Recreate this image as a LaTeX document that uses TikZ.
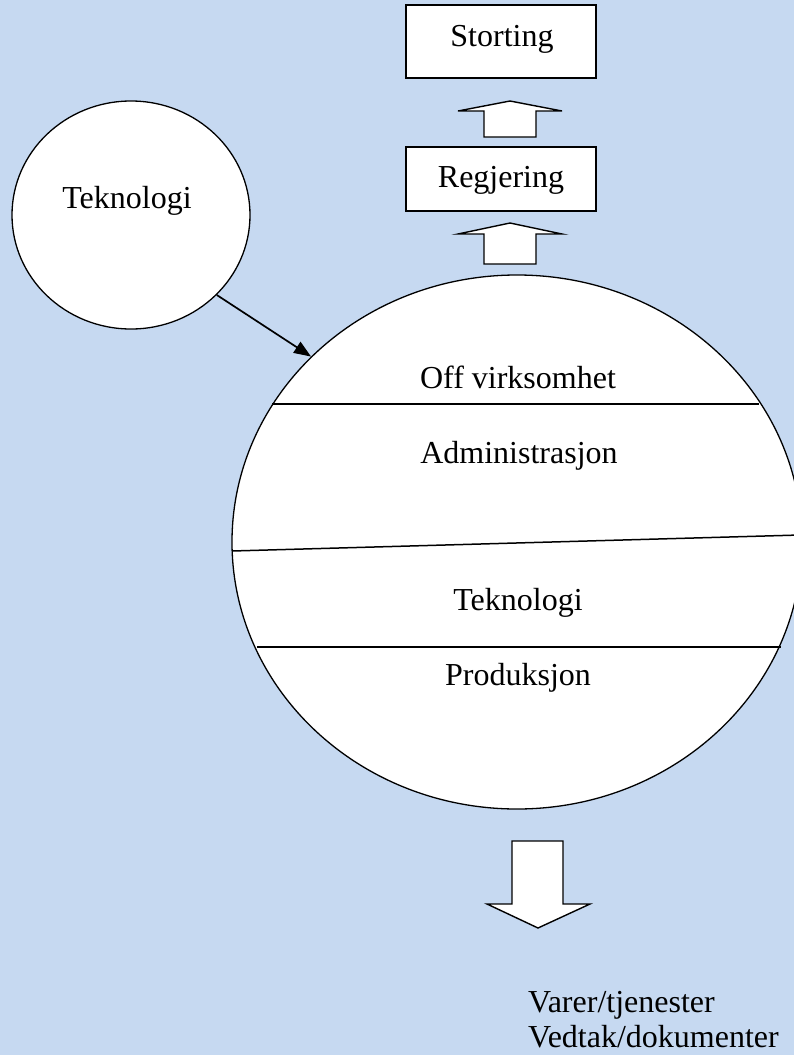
\documentclass[tikz,border=0pt]{standalone}
\usepackage{fontspec}
\setmainfont{Liberation Serif}
\usetikzlibrary{arrows.meta,shapes.geometric}
\definecolor{bgblue}{RGB}{198,217,241}
\begin{document}
\begin{tikzpicture}[x=1pt,y=-1pt, font=\fontsize{32}{35}\selectfont,
  txt/.style={inner sep=0pt, anchor=base},
  outl/.style={draw=black, line width=1.3pt, fill=white},
  boxnode/.style={draw=black, line width=1.5pt, fill=white, inner sep=0pt, minimum width=190pt},
  divider/.style={draw=black, line width=1.5pt},
  blockarrow/.style={draw=black, line width=1.4pt, fill=white, line join=miter}]
\useasboundingbox (0,0) rectangle (794,1055);
\fill[bgblue] (0,0) rectangle (794,1055);
% big organisation ellipse
\begin{scope}
\clip (0,0) rectangle (794,1055);
\node[ellipse, outl, minimum width=570pt, minimum height=534pt, inner sep=0pt] (org) at (517,542) {};
\draw[divider] (272,404) -- (759,404);
\draw[divider] (232,551) -- (800,535);
\draw[divider] (257,647) -- (781,647);
\end{scope}
\node[txt] (off) at (518,388) {Off virksomhet};
\node[txt] (adm) at (519,463) {Administrasjon};
\node[txt] (tek2) at (518,610) {Teknologi};
\node[txt] (prod) at (518,685) {Produksjon};
% technology circle
\node[ellipse, outl, minimum width=238pt, minimum height=228pt, inner sep=0pt] (tek) at (131,215) {};
\node[txt] (tektxt) at (127,208) {Teknologi};
\draw[line width=1.7pt, -{Triangle[length=17pt,width=13pt]}] (tek.-43) -- (org.138);
% boxes
\node[boxnode, minimum height=73pt] (stor) at (501,41.5) {};
\node[txt] (stortxt) at (502,46) {Storting};
\node[boxnode, minimum height=64pt] (reg) at (501,179) {};
\node[txt] (regtxt) at (501,187) {Regjering};
% up block arrows
\draw[blockarrow] (484,137) -- (536,137) -- (536,111) -- (562,111) -- (510,101) -- (458,111) -- (484,111) -- cycle;
\draw[blockarrow] (484,264) -- (536,264) -- (536,234) -- (562,234) -- (510,223) -- (458,234) -- (484,234) -- cycle;
% down block arrow
\draw[blockarrow] (512,841) -- (563,841) -- (563,904) -- (590,904) -- (538,928) -- (487,904) -- (512,904) -- cycle;
% output text
\node[inner sep=0pt, anchor=base west] (out1) at (528,1012) {Varer/tjenester};
\node[inner sep=0pt, anchor=base west] (out2) at (528,1047) {Vedtak/dokumenter};
\end{tikzpicture}
\end{document}
